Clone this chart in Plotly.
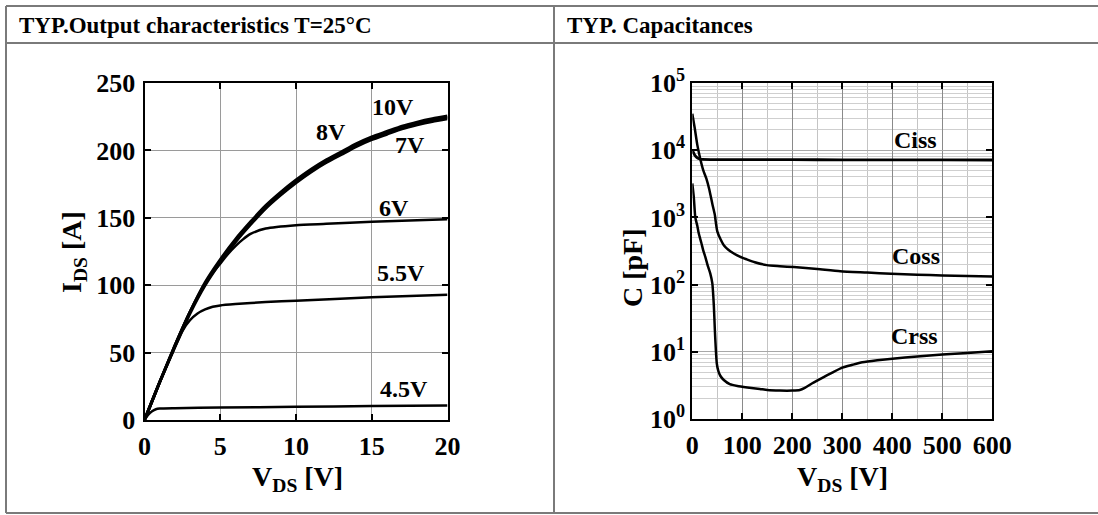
import plotly.graph_objects as go

W, H = 1098, 515
FONT = "Liberation Serif, Times New Roman, serif"

# ---------------- Output characteristics (left) ----------------
vds_sat = [0, 0.5, 1, 2, 3, 4, 5, 6, 7, 8, 9, 10, 11, 12, 13, 14, 15, 16, 17, 18, 19, 20]
id_10v = [0, 14, 28, 55, 80, 102, 119, 134, 147, 159, 169, 178, 186, 193, 199, 205, 210, 214, 218, 221, 223.5, 225.5]
id_8v = [0, 14, 28, 55, 80, 101, 118, 133, 146, 158, 168, 177, 185, 192, 198, 204, 209, 213, 217, 220, 222.5, 224.5]
id_7v = [0, 14, 28, 54, 79, 100, 117, 132, 145, 157, 167, 176, 184, 191, 197, 203, 208, 212, 216, 219, 221.5, 223.5]

vds_6v = [0, 1, 2, 3, 4, 4.5, 5, 5.5, 6, 6.5, 7, 8, 10, 12, 15, 20]
id_6v = [0, 28, 55, 80, 101, 109, 116, 123, 129, 134, 138, 142, 144.5, 145.5, 147, 149]

vds_55v = [0, 1, 2, 2.5, 3, 3.5, 4, 4.5, 5, 6, 8, 10, 15, 20]
id_55v = [0, 28, 54, 66, 74, 79, 82, 84, 85, 86, 87.5, 88.5, 91, 93]

vds_45v = [0, 0.25, 0.5, 0.75, 1, 2, 5, 10, 15, 20]
id_45v = [0, 4, 6.5, 8, 8.5, 8.8, 9.2, 9.8, 10.3, 10.8]

out_labels = ["10V", "8V", "7V", "6V", "5.5V", "4.5V"]
out_label_x = [16.4, 12.3, 17.5, 16.5, 16.9, 17.1]
out_label_y = [232, 214, 204, 157, 109, 23]

out_xticks = [0, 5, 10, 15, 20]
out_yticks = [0, 50, 100, 150, 200, 250]

# ---------------- Capacitances (right) ----------------
v_ciss = [0, 3, 6, 10, 15, 20, 50, 100, 200, 300, 400, 500, 600]
c_ciss = [10000, 9000, 8200, 7700, 7400, 7300, 7250, 7250, 7220, 7200, 7200, 7180, 7150]

v_coss = [0, 5, 10, 16, 22, 28, 34, 40, 45, 47, 50, 56, 63, 72, 83, 95, 109, 125, 149, 175,
          203, 250, 296, 350, 398, 450, 500, 550, 600]
c_coss = [35000, 21000, 12000, 7400, 5000, 3800, 2600, 1600, 1100, 850, 620, 480, 385, 330, 290,
          260, 237, 215, 195, 188, 182, 170, 158, 151, 145, 140, 137, 134, 132]

v_crss = [0, 3, 6, 10, 13, 18, 22, 26, 31, 36, 40, 43, 45, 47, 49, 52, 56, 63, 75, 90, 110,
          135, 150, 175, 200, 215, 225, 240, 260, 280, 300, 320, 340, 370, 400, 450, 500, 550, 600]
c_crss = [3200, 2000, 1000, 750, 575, 420, 320, 258, 190, 146, 105, 50, 22, 11, 6.7, 5.2, 4.4,
          3.8, 3.3, 3.1, 2.95, 2.8, 2.7, 2.65, 2.65, 2.7, 2.9, 3.4, 4.1, 4.9, 5.8, 6.4, 7.0, 7.5,
          7.9, 8.5, 9.1, 9.6, 10.2]

cap_labels = ["Ciss", "Coss", "Crss"]
cap_label_x = [446, 448, 444]
cap_label_y = [4.15, 2.43, 1.24]

cap_xticks = [0, 100, 200, 300, 400, 500, 600]
cap_yticks = [1, 10, 100, 1000, 10000, 100000]
cap_yticktext = ["10<sup>0</sup>", "10<sup>1</sup>", "10<sup>2</sup>", "10<sup>3</sup>",
                 "10<sup>4</sup>", "10<sup>5</sup>"]

titles = ["TYP.Output characteristics T=25°C", "TYP. Capacitances"]


def px_x(p):
    return p / W


def px_y(p):
    return 1 - p / H


fig = go.Figure()

line_kw = dict(color="black", shape="spline", smoothing=0.6)

fig.add_trace(go.Scatter(x=vds_45v, y=id_45v, mode="lines", line=dict(width=2.5, **line_kw), xaxis="x", yaxis="y"))
fig.add_trace(go.Scatter(x=vds_55v, y=id_55v, mode="lines", line=dict(width=2.5, **line_kw), xaxis="x", yaxis="y"))
fig.add_trace(go.Scatter(x=vds_6v, y=id_6v, mode="lines", line=dict(width=2.5, **line_kw), xaxis="x", yaxis="y"))
for ys in (id_7v, id_8v, id_10v):
    fig.add_trace(go.Scatter(x=vds_sat, y=ys, mode="lines", line=dict(width=3, **line_kw), xaxis="x", yaxis="y"))

fig.add_trace(go.Scatter(x=v_ciss, y=c_ciss, mode="lines", line=dict(width=2.8, **line_kw), xaxis="x2", yaxis="y2"))
fig.add_trace(go.Scatter(x=v_coss, y=c_coss, mode="lines", line=dict(width=2.5, **line_kw), xaxis="x2", yaxis="y2"))
fig.add_trace(go.Scatter(x=v_crss, y=c_crss, mode="lines", line=dict(width=2.5, **line_kw), xaxis="x2", yaxis="y2"))

tickfont = dict(family=FONT, size=26, color="black", weight="bold")

common_axis = dict(
    showline=True, linecolor="black", linewidth=2, mirror="allticks",
    ticks="inside", ticklen=6, tickwidth=1.5, tickcolor="black",
    zeroline=False, tickfont=tickfont, automargin=False,
)

fig.update_layout(
    template="none",
    width=W, height=H,
    autosize=False,
    margin=dict(l=0, r=0, t=0, b=0, pad=0, autoexpand=False),
    paper_bgcolor="white", plot_bgcolor="white",
    showlegend=False,
    hovermode=False,
    xaxis=dict(domain=[px_x(144.5), px_x(447.5)], range=[0, 20], tickvals=out_xticks,
               showgrid=True, gridcolor="#9a9a9a", gridwidth=1, anchor="y",
               ticklabelstandoff=2, **common_axis),
    yaxis=dict(domain=[px_y(420), px_y(83)], range=[0, 250], tickvals=out_yticks,
               showgrid=True, gridcolor="#9a9a9a", gridwidth=1, anchor="x",
               ticklabelstandoff=2, **common_axis),
    xaxis2=dict(domain=[px_x(692.3), px_x(992.3)], range=[0, 600], tickvals=cap_xticks,
                showgrid=True, gridcolor="#8a8a8a", gridwidth=1, anchor="y2",
                minor=dict(dtick=50, showgrid=True, gridcolor="#c4c4c4", gridwidth=1, ticks=""),
                ticklabelstandoff=2, **common_axis),
    yaxis2=dict(domain=[px_y(419), px_y(83)], type="log", range=[0, 5],
                tickvals=cap_yticks, ticktext=cap_yticktext,
                showgrid=True, gridcolor="#a8a8a8", gridwidth=1, anchor="x2",
                minor=dict(dtick="D1", showgrid=True, gridcolor="#cfcfcf", gridwidth=1, ticks=""),
                ticklabelstandoff=0, **common_axis),
)

# table frame
frame_color = "#7a7a7a"
for (x0, y0, x1, y1) in [(6, 6, W, 6), (6, 43, W, 43), (6, 513, W, 513), (6, 6, 6, 513), (554, 6, 554, 513)]:
    fig.add_shape(type="line", xref="paper", yref="paper",
                  x0=px_x(x0), y0=px_y(y0), x1=px_x(x1), y1=px_y(y1),
                  line=dict(color=frame_color, width=2))

ann = []
# header titles
for tx, xpos in zip(titles, [17, 565]):
    ann.append(dict(text="<b>%s</b>" % tx, xref="paper", yref="paper", x=px_x(xpos), y=px_y(26),
                    xanchor="left", yanchor="middle", showarrow=False,
                    font=dict(family=FONT, size=23, color="black")))

title_font = dict(family=FONT, size=28, color="black")
ann.append(dict(text="<b>V<sub>DS</sub> [V]</b>", xref="paper", yref="paper", x=px_x(297), y=px_y(478),
                xanchor="center", yanchor="middle", showarrow=False, font=title_font))
ann.append(dict(text="<b>V<sub>DS</sub> [V]</b>", xref="paper", yref="paper", x=px_x(842), y=px_y(478),
                xanchor="center", yanchor="middle", showarrow=False, font=title_font))
ann.append(dict(text="<b>I<sub>DS</sub> [A]</b>", xref="paper", yref="paper", x=px_x(74), y=px_y(252),
                xanchor="center", yanchor="middle", showarrow=False, textangle=-90, font=title_font))
ann.append(dict(text="<b>C [pF]</b>", xref="paper", yref="paper", x=px_x(632), y=px_y(268),
                xanchor="center", yanchor="middle", showarrow=False, textangle=-90, font=title_font))

lab_font = dict(family=FONT, size=24, color="black")
for t, x, y in zip(out_labels, out_label_x, out_label_y):
    ann.append(dict(text="<b>%s</b>" % t, xref="x", yref="y", x=x, y=y, showarrow=False,
                    xanchor="center", yanchor="middle", font=lab_font))
for t, x, y in zip(cap_labels, cap_label_x, cap_label_y):
    ann.append(dict(text="<b>%s</b>" % t, xref="x2", yref="y2", x=x, y=y, showarrow=False,
                    xanchor="center", yanchor="middle", font=lab_font))

fig.update_layout(annotations=ann)

fig.write_html("out.html", config={"displayModeBar": False},
               post_script="document.body.style.margin='0';document.body.style.overflow='hidden';")
